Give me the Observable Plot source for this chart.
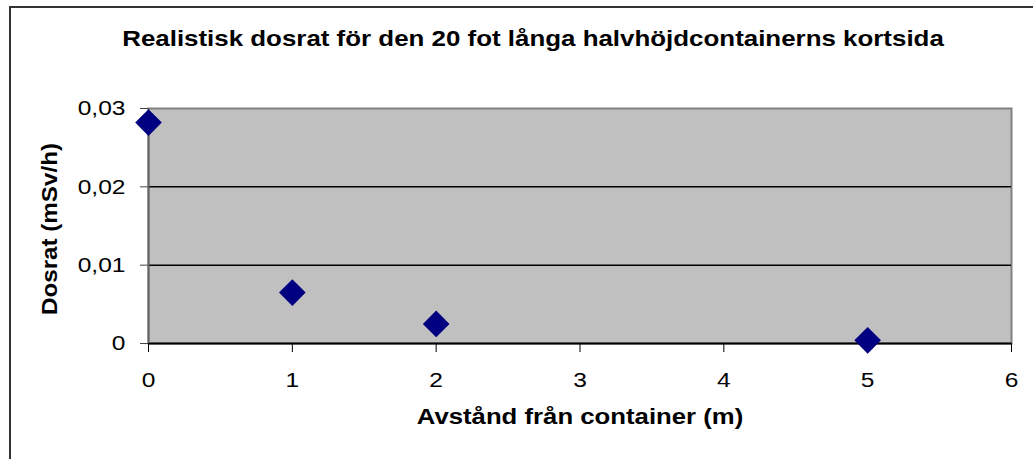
<!DOCTYPE html>
<html>
<head>
<meta charset="utf-8">
<script src="https://cdn.jsdelivr.net/npm/d3@7"></script>
<script src="https://cdn.jsdelivr.net/npm/@observablehq/plot@0.6"></script>
<style>
  html, body { margin: 0; padding: 0; background: #fff; overflow: hidden; }
  #wrap { position: relative; width: 1033px; height: 459px; overflow: hidden; font-family: "Liberation Sans", Arial, sans-serif; }
  #border { position: absolute; left: 9px; top: 6px; width: 1100px; height: 600px; border: 2px solid #333; box-sizing: border-box; }
  #titlebox { position: relative; height: 80px; }
  #title { position: absolute; left: 533px; top: 39px; transform: translate(-50%, -50%) scaleX(1.177); white-space: nowrap; font-weight: bold; font-size: 22px; line-height: 22px; color: #000; }
  #chart { position: relative; }
</style>
</head>
<body>
<div id="wrap">
  <div id="border"></div>
  <div id="titlebox"><div id="title">Realistisk dosrat för den 20 fot långa halvhöjdcontainerns kortsida</div></div>
  <div id="chart"></div>
</div>
<script>
const distances = [0, 1, 2, 5];
const doseRates = [0.0282, 0.0065, 0.0025, 0.0004];
const xTicks = [0, 1, 2, 3, 4, 5, 6];
const yTicks = [0, 0.01, 0.02, 0.03];
const yTickLabels = ["0", "0,01", "0,02", "0,03"];
const gridValues = [0.01, 0.02];
const xTitle = "Avstånd från container (m)";
const yTitle = "Dosrat (mSv/h)";

const data = distances.map((d, i) => ({x: d, y: doseRates[i]}));

const chart = Plot.plot({
  width: 1033,
  height: 379,
  marginLeft: 148,
  marginRight: 22,
  marginTop: 28,
  marginBottom: 116,
  style: {fontFamily: "'Liberation Sans', Arial, sans-serif", fontSize: "21px", color: "#000", background: "transparent", overflow: "visible"},
  x: {domain: [0, 6]},
  y: {domain: [0, 0.03]},
  marks: [
    Plot.frame({fill: "#C0C0C0", stroke: "#808080", strokeWidth: 2}),
    Plot.ruleY(gridValues, {stroke: "#000", strokeWidth: 1.5}),
    Plot.ruleY([0], {stroke: "#000", strokeWidth: 2}),
    Plot.ruleX([0], {stroke: "#666", strokeWidth: 2}),
    Plot.axisX({ticks: xTicks, tickSize: 9, tickPadding: 20, tickFormat: d => String(d), label: null, stroke: "#000", fontSize: 21}),
    Plot.axisY({ticks: yTicks, tickSize: 8, tickPadding: 15, tickFormat: (d) => yTickLabels[yTicks.indexOf(d)], label: null, stroke: "#444", fontSize: 21}),
    Plot.dot(data, {x: "x", y: "y", symbol: "diamond2", r: 12, fill: "#000080", stroke: "none"}),
    Plot.text([xTitle], {frameAnchor: "bottom", textAnchor: "middle", lineAnchor: "middle", dy: 73, fontWeight: "bold", fontSize: 22, fill: "#000"}),
    Plot.text([yTitle], {frameAnchor: "left", textAnchor: "middle", lineAnchor: "middle", dx: -99, dy: 3, rotate: -90, fontWeight: "bold", fontSize: 22, fill: "#000"})
  ]
});
document.getElementById("chart").appendChild(chart);

// Stretch texts horizontally (along their own direction) around their anchor point,
// like the reference's wide glyphs
chart.querySelectorAll("text").forEach(t => {
  const s = t.textContent === yTitle ? 1.1 : 1.17;
  const bb = t.getBBox();
  const anchor = getComputedStyle(t).textAnchor;
  const px = anchor === "end" ? bb.x + bb.width : anchor === "middle" ? bb.x + bb.width / 2 : bb.x;
  const tr = t.getAttribute("transform") || "";
  t.setAttribute("transform", `${tr} translate(${px},0) scale(${s},1) translate(${-px},0)`);
});
</script>
</body>
</html>
